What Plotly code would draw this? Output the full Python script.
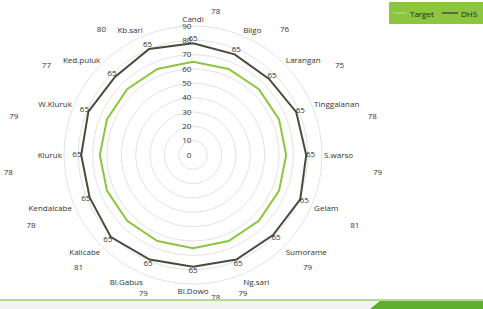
import math
import plotly.graph_objects as go

categories = ["Candi", "Bligo", "Larangan", "Tinggalanan", "S.warso", "Gelam",
              "Sumorame", "Ng.sari", "Bl.Dowo", "Bl.Gabus", "Kalicabe",
              "Kendalcabe", "Kluruk", "W.Kluruk", "Ked.puluk", "Kb.sari"]
dhs = [78, 76, 75, 78, 79, 81, 79, 79, 78, 79, 81, 78, 78, 79, 77, 80]
target = [65] * 16
radial_ticks = [0, 10, 20, 30, 40, 50, 60, 70, 80, 90]

GREEN = "#8cc63f"
DARK = "#4a4a3c"
TXT = "#333333"
FONT = "Open Sans"

W, H = 483, 309
CX, CY, RAD = 193, 155, 129          # polar centre / radius in px
RMAX = 90
PPU = RAD / RMAX                      # px per radial unit

cat_closed = categories + categories[:1]

fig = go.Figure()
fig.add_trace(go.Scatterpolar(
    r=target + target[:1], theta=cat_closed, mode="lines", name="Target",
    line=dict(color=GREEN, width=2), showlegend=False))
fig.add_trace(go.Scatterpolar(
    r=dhs + dhs[:1], theta=cat_closed, mode="lines", name="DHS",
    line=dict(color=DARK, width=2), showlegend=False))
# data labels of the target series (drawn on the DHS line)
fig.add_trace(go.Scatterpolar(
    r=[v + 3 for v in dhs], theta=categories, mode="text",
    text=[str(v) for v in target], textfont=dict(size=8, color=TXT, family=FONT),
    showlegend=False, cliponaxis=False, hoverinfo="skip"))

# DHS values, laid out on an ellipse around the radar (cartesian overlay in radial units)
n = len(categories)
A, B = 186 / PPU, 144 / PPU
SHIFT = math.radians(7)
ang = []
for i in range(n):
    a = 2 * math.pi * i / n
    ang.append(a + SHIFT if a < math.pi else a - SHIFT)
fig.add_trace(go.Scatter(
    x=[A * math.sin(a) for a in ang], y=[B * math.cos(a) for a in ang],
    mode="text", text=[str(v) for v in dhs],
    textfont=dict(size=8, color=TXT, family=FONT),
    showlegend=False, cliponaxis=False, hoverinfo="skip"))

# legend (drawn manually to match the compact green box)
LX0, LY0, LX1, LY1 = 389, 2, 483, 24
ly = (LY0 + LY1) / 2

def px(x):
    return x / W

def py(y):
    return 1 - y / H

shapes = [
    dict(type="rect", xref="paper", yref="paper", x0=px(LX0), x1=px(LX1),
         y0=py(LY1), y1=py(LY0), fillcolor=GREEN, line=dict(width=0)),
    dict(type="line", xref="paper", yref="paper", x0=px(393), x1=px(406),
         y0=py(ly), y1=py(ly), line=dict(color="#a9d86e", width=1.5)),
    dict(type="line", xref="paper", yref="paper", x0=px(442), x1=px(458),
         y0=py(ly), y1=py(ly), line=dict(color=DARK, width=1.5)),
    # bottom decoration
    dict(type="rect", xref="paper", yref="paper", x0=0, x1=1, y0=0, y1=py(301),
         fillcolor="#f2f2f2", line=dict(width=0), layer="below"),
    dict(type="line", xref="paper", yref="paper", x0=0, x1=1,
         y0=py(300), y1=py(300), line=dict(color="#b5d98a", width=2)),
    dict(type="path", xref="paper", yref="paper",
         path=f"M {px(380)} {py(301)} L 1 {py(301)} L 1 0 L {px(370)} 0 Z",
         fillcolor="#5fae2e", line=dict(width=0)),
]
annotations = [
    dict(xref="paper", yref="paper", x=px(408), y=py(ly), text="Target",
         showarrow=False, xanchor="left", yanchor="middle",
         font=dict(size=8, color="#222222", family=FONT)),
    dict(xref="paper", yref="paper", x=px(459), y=py(ly), text="DHS",
         showarrow=False, xanchor="left", yanchor="middle",
         font=dict(size=8, color="#222222", family=FONT)),
]

fig.update_layout(
    width=W, height=H,
    margin=dict(l=0, r=0, t=0, b=0, autoexpand=False),
    paper_bgcolor="white", plot_bgcolor="rgba(0,0,0,0)",
    font=dict(family=FONT, size=8, color=TXT),
    showlegend=False,
    xaxis=dict(range=[-CX / PPU, (W - CX) / PPU], visible=False, domain=[0, 1]),
    yaxis=dict(range=[-(H - CY) / PPU, CY / PPU], visible=False, domain=[0, 1]),
    polar=dict(
        domain=dict(x=[(CX - RAD) / W, (CX + RAD) / W],
                    y=[1 - (CY + RAD) / H, 1 - (CY - RAD) / H]),
        bgcolor="rgba(0,0,0,0)",
        radialaxis=dict(range=[0, RMAX], tickvals=radial_ticks, angle=90,
                        tickangle=90, side="counterclockwise",
                        showline=False, ticks="",
                        gridcolor="#e3e3e3", gridwidth=1,
                        tickfont=dict(size=8, color=TXT)),
        angularaxis=dict(direction="clockwise", rotation=90, showgrid=False,
                         linecolor="#e3e3e3", ticks="",
                         tickfont=dict(size=8, color=TXT)),
    ),
    shapes=shapes,
    annotations=annotations,
)

fig.write_html("out.html",
               config={"displayModeBar": False},
               post_script="document.body.style.margin='0';"
                           "document.body.style.overflow='hidden';")
